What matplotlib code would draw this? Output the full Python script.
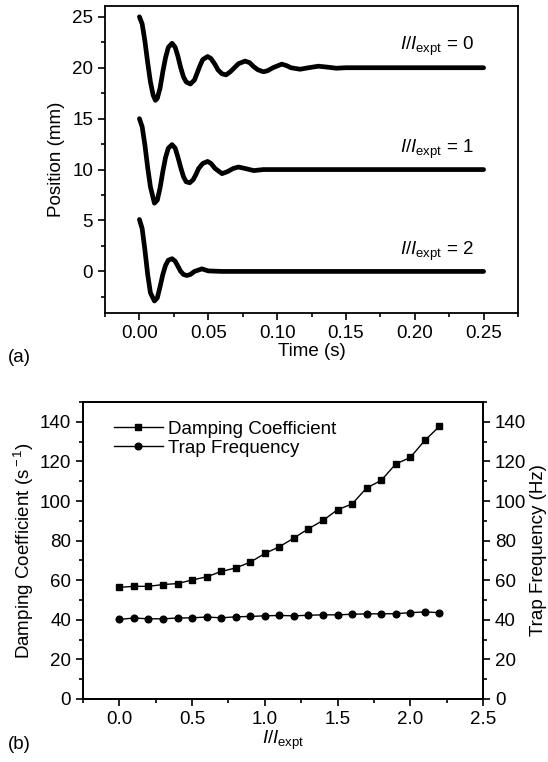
import matplotlib
matplotlib.use("Agg")
import matplotlib.pyplot as plt
from matplotlib.ticker import MultipleLocator

plt.rcParams['font.family'] = ['Liberation Sans', 'DejaVu Sans']
plt.rcParams['mathtext.fontset'] = 'custom'
plt.rcParams['mathtext.rm'] = 'Liberation Sans'
plt.rcParams['mathtext.it'] = 'Liberation Sans:italic'

# (a) position vs time
t0 = [0.000, 0.002, 0.004, 0.006, 0.008, 0.010, 0.0116, 0.013, 0.015, 0.017, 0.019, 0.021,
      0.0237, 0.026, 0.028, 0.030, 0.032, 0.034, 0.037, 0.040, 0.042, 0.044, 0.046, 0.0495,
      0.052, 0.055, 0.057, 0.060, 0.063, 0.066, 0.069, 0.072, 0.0768, 0.080, 0.083, 0.086,
      0.090, 0.093, 0.097, 0.1034, 0.107, 0.110, 0.1167, 0.123, 0.130, 0.137, 0.143, 0.150,
      0.20, 0.25]
pos0 = [25.0, 24.3, 22.6, 20.5, 18.6, 17.3, 16.8, 17.0, 18.0, 19.6, 21.0, 22.0,
        22.4, 22.0, 21.1, 20.0, 19.1, 18.6, 18.4, 18.8, 19.5, 20.2, 20.8, 21.1,
        20.9, 20.3, 19.8, 19.4, 19.3, 19.6, 20.0, 20.4, 20.65, 20.5, 20.1, 19.8,
        19.6, 19.7, 20.0, 20.35, 20.2, 20.0, 19.85, 20.0, 20.15, 20.05, 19.95, 20.0,
        20.0, 20.0]

t1 = [0.000, 0.002, 0.004, 0.006, 0.008, 0.0109, 0.013, 0.015, 0.017, 0.019, 0.021,
      0.0237, 0.026, 0.028, 0.030, 0.032, 0.034, 0.0365, 0.039, 0.041, 0.043, 0.046,
      0.0495, 0.052, 0.055, 0.060, 0.064, 0.068, 0.072, 0.077, 0.083, 0.090, 0.10, 0.25]
pos1 = [15.0, 14.2, 12.4, 10.2, 8.3, 6.7, 7.0, 8.2, 9.8, 11.2, 12.1,
        12.45, 12.1, 11.2, 10.2, 9.3, 8.8, 8.7, 9.0, 9.5, 10.1, 10.6,
        10.8, 10.6, 10.1, 9.6, 9.8, 10.1, 10.25, 10.1, 9.9, 10.0, 10.0, 10.0]

t2 = [0.000, 0.002, 0.004, 0.006, 0.008, 0.0109, 0.013, 0.015, 0.017, 0.019, 0.021,
      0.0237, 0.026, 0.028, 0.030, 0.032, 0.0345, 0.037, 0.040, 0.0454, 0.050, 0.06, 0.25]
pos2 = [5.1, 4.2, 2.1, -0.3, -2.1, -2.9, -2.6, -1.5, -0.3, 0.6, 1.1,
        1.25, 1.0, 0.5, 0.0, -0.3, -0.4, -0.3, 0.0, 0.25, 0.05, 0.0, 0.0]

curve_labels = ['0', '1', '2']
label_pos = [22.1, 12.0, 2.0]

# (b) damping coefficient and trap frequency vs I/I_expt
ratio = [0.0, 0.1, 0.2, 0.3, 0.4, 0.5, 0.6, 0.7, 0.8, 0.9, 1.0, 1.1,
         1.2, 1.3, 1.4, 1.5, 1.6, 1.7, 1.8, 1.9, 2.0, 2.1, 2.2]
damping = [56.4, 56.9, 56.9, 57.8, 58.3, 60.1, 61.7, 64.4, 66.2, 69.1, 73.5, 76.9,
           81.3, 86.0, 90.2, 95.6, 98.5, 106.6, 110.4, 118.7, 122.0, 130.6, 137.7]
trap = [40.2, 40.9, 40.5, 40.5, 40.9, 41.0, 41.4, 41.0, 41.5, 41.7, 42.0, 42.2,
        42.0, 42.3, 42.5, 42.5, 42.8, 43.0, 43.0, 43.1, 43.6, 44.0, 43.6]

fs = 13.5
fig = plt.figure(figsize=(5.48, 7.62), dpi=100)

ax1 = fig.add_axes([0.1916, 0.589, 0.7537, 0.403])
for t, p in [(t0, pos0), (t1, pos1), (t2, pos2)]:
    ax1.plot(t, p, color='black', lw=3.4, solid_capstyle='round', solid_joinstyle='round')
for lab, y in zip(curve_labels, label_pos):
    ax1.text(0.243, y, r'$I/I_{\rm expt}$ = ' + lab, ha='right', va='center', fontsize=fs)
ax1.set_xlim(-0.025, 0.275)
ax1.set_ylim(-4.1, 26.05)
ax1.xaxis.set_major_locator(MultipleLocator(0.05))
ax1.xaxis.set_minor_locator(MultipleLocator(0.025))
ax1.yaxis.set_major_locator(MultipleLocator(5))
ax1.yaxis.set_minor_locator(MultipleLocator(2.5))
ax1.set_xticks([0, 0.05, 0.10, 0.15, 0.20, 0.25])
ax1.set_xticklabels(['0.00', '0.05', '0.10', '0.15', '0.20', '0.25'])
ax1.set_xlabel('Time (s)', fontsize=fs, labelpad=1)
ax1.set_ylabel('Position (mm)', fontsize=fs, labelpad=5)
ax1.tick_params(which='both', direction='out', labelsize=fs, width=1.2)
ax1.tick_params(which='major', length=5)
ax1.tick_params(which='minor', length=3)
for s in ax1.spines.values():
    s.set_linewidth(1.3)
fig.text(0.015, 0.525, '(a)', fontsize=fs)

ax2 = fig.add_axes([0.1515, 0.0827, 0.7299, 0.3897])
ax2.plot(ratio, damping, color='black', lw=1, marker='s', ms=4.6, label='Damping Coefficient')
ax2.plot(ratio, trap, color='black', lw=1, marker='o', ms=4.8, label='Trap Frequency')
ax2.set_xlim(-0.25, 2.5)
ax2.set_ylim(0, 150)
ax2.xaxis.set_major_locator(MultipleLocator(0.5))
ax2.xaxis.set_minor_locator(MultipleLocator(0.25))
ax2.yaxis.set_major_locator(MultipleLocator(20))
ax2.yaxis.set_minor_locator(MultipleLocator(10))
ax2.set_xlabel(r'$I/I_{\rm expt}$', fontsize=fs, labelpad=1)
ax2.set_ylabel(r'Damping Coefficient (s$^{\rm -1}$)', fontsize=fs, labelpad=3)
ax2.tick_params(which='both', direction='out', labelsize=fs, width=1.2)
ax2.tick_params(which='major', length=5)
ax2.tick_params(which='minor', length=3)
ax2.legend(loc='upper left', frameon=False, fontsize=fs, handlelength=2.6,
           handletextpad=0.3, labelspacing=0.1, borderaxespad=0.6,
           bbox_to_anchor=(0.03, 1.0))

ax3 = ax2.twinx()
ax3.set_ylim(0, 150)
ax3.yaxis.set_major_locator(MultipleLocator(20))
ax3.yaxis.set_minor_locator(MultipleLocator(10))
ax3.set_ylabel('Trap Frequency (Hz)', fontsize=fs, labelpad=3)
ax3.tick_params(which='both', direction='out', labelsize=fs, width=1.2)
ax3.tick_params(which='major', length=5)
ax3.tick_params(which='minor', length=3)
for a in (ax2, ax3):
    for s in a.spines.values():
        s.set_linewidth(1.3)
fig.text(0.015, 0.017, '(b)', fontsize=fs)

fig.savefig('out.png', dpi=100)
